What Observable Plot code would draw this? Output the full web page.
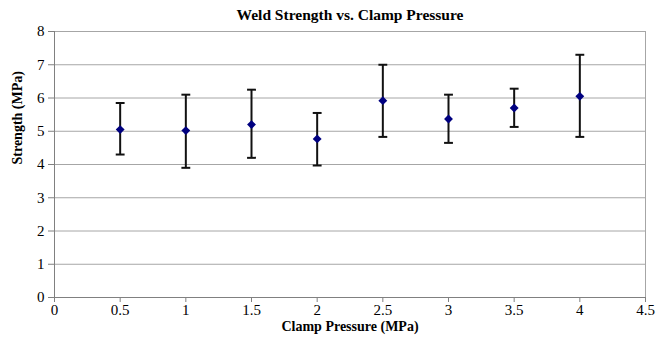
<!DOCTYPE html>
<html>
<head>
<meta charset="utf-8">
<script src="https://cdn.jsdelivr.net/npm/d3@7"></script>
<script src="https://cdn.jsdelivr.net/npm/@observablehq/plot@0.6"></script>
<style>
  html, body { margin: 0; padding: 0; background: #fff; }
  #chart svg { display: block; }
  #chart svg text { font-family: 'Liberation Serif', 'Times New Roman', serif !important; font-variant: normal !important; }
</style>
</head>
<body>
<div id="chart"></div>
<script>
const pressure = [0.5, 1, 1.5, 2, 2.5, 3, 3.5, 4];
const strength = [5.05, 5.02, 5.2, 4.77, 5.92, 5.37, 5.7, 6.05];
const upper    = [5.85, 6.1, 6.25, 5.55, 7.0, 6.1, 6.28, 7.3];
const lower    = [4.3, 3.9, 4.2, 3.97, 4.83, 4.65, 5.13, 4.83];
const xTicks = [0, 0.5, 1, 1.5, 2, 2.5, 3, 3.5, 4, 4.5];
const yTicks = [0, 1, 2, 3, 4, 5, 6, 7, 8];
const title = "Weld Strength vs. Clamp Pressure";
const xLabel = "Clamp Pressure (MPa)";
const yLabel = "Strength (MPa)";

const data = pressure.map((p, i) => ({p, s: strength[i], hi: upper[i], lo: lower[i]}));

const cap = {
  draw(ctx, size) {
    const w = Math.sqrt(size) / 2;
    ctx.moveTo(-w, 0);
    ctx.lineTo(w, 0);
  }
};

const font = "'Liberation Serif', 'Times New Roman', serif";
const fmt = d => String(d);

const chart = Plot.plot({
  width: 664,
  height: 337,
  marginLeft: 54,
  marginRight: 19,
  marginTop: 31,
  marginBottom: 40,
  style: { fontFamily: font, fontSize: "15px", color: "#000", background: "#fff" },
  x: { domain: [0, 4.5] },
  y: { domain: [0, 8] },
  marks: [
    Plot.gridY(yTicks, { stroke: "#a6a6a6", strokeOpacity: 1 }),
    Plot.frame({ stroke: "#a6a6a6" }),
    Plot.ruleX([0], { stroke: "#808080" }),
    Plot.ruleY([0], { stroke: "#808080" }),
    Plot.axisY(yTicks, { tickSize: 6, tickPadding: 4, stroke: "#808080", label: null, tickFormat: fmt, fontSize: 15, fontFamily: font, fill: "#000" }),
    Plot.axisX(xTicks, { tickSize: 5, tickPadding: 2, stroke: "#808080", label: null, tickFormat: fmt, fontSize: 15, fontFamily: font, fill: "#000" }),
    Plot.ruleX(data, { x: "p", y1: "lo", y2: "hi", stroke: "#111", strokeWidth: 2 }),
    Plot.dot(data, { x: "p", y: "hi", symbol: cap, r: 5, stroke: "#111", strokeWidth: 2, fill: "none" }),
    Plot.dot(data, { x: "p", y: "lo", symbol: cap, r: 5, stroke: "#111", strokeWidth: 2, fill: "none" }),
    Plot.dot(data, { x: "p", y: "s", symbol: "diamond2", r: 4, fill: "#000080", stroke: "none" }),
    Plot.text([title], { frameAnchor: "top", dy: -16, lineAnchor: "middle", text: d => d, fontWeight: "bold", fontSize: 15.5, fontFamily: font, fill: "#000" }),
    Plot.text([xLabel], { frameAnchor: "bottom", dy: 29, lineAnchor: "middle", text: d => d, fontWeight: "bold", fontSize: 14, fontFamily: font, fill: "#000" }),
    Plot.text([yLabel], { frameAnchor: "left", dx: -37, rotate: -90, lineAnchor: "middle", text: d => d, fontWeight: "bold", fontSize: 14, fontFamily: font, fill: "#000" })
  ]
});
document.getElementById("chart").appendChild(chart);
</script>
</body>
</html>
